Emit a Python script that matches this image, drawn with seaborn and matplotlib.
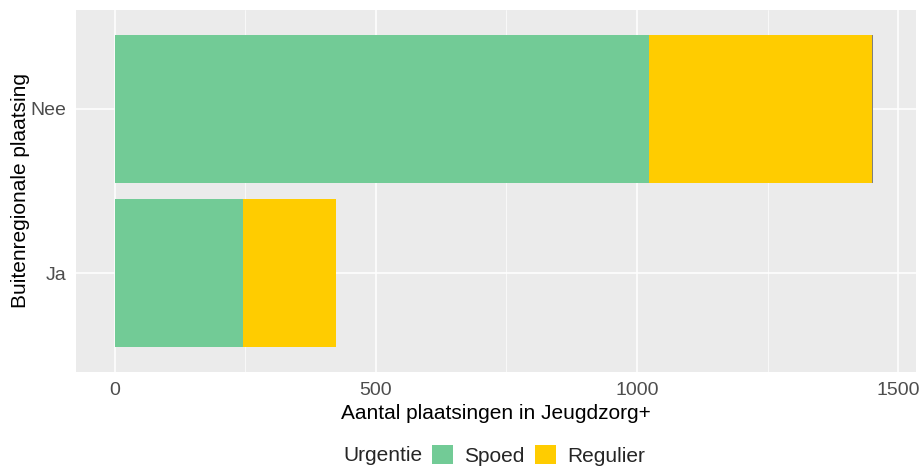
import pandas as pd
import numpy as np
import matplotlib
matplotlib.use("Agg")
import matplotlib.pyplot as plt
import seaborn as sns
from matplotlib.patches import Patch

# data
plaatsing = ['Nee', 'Ja']
spoed = [1023, 245]
regulier = [427, 178]
onbekend = [2, 0]

groen = '#72CB96'
geel = '#FFCC00'
grijs = '#7F7F7F'

df = pd.DataFrame({'Plaatsing': plaatsing, 'Spoed': spoed, 'Regulier': regulier, 'Onbekend': onbekend})
df['cum_spoed'] = df['Spoed']
df['cum_regulier'] = df['Spoed'] + df['Regulier']
df['cum_onbekend'] = df['cum_regulier'] + df['Onbekend']

sns.set_style('darkgrid', {'axes.facecolor': '#EBEBEB', 'grid.color': 'white'})
plt.rcParams['font.family'] = ['Liberation Sans', 'DejaVu Sans']

fig = plt.figure(figsize=(9.23, 4.73), dpi=100)
ax = fig.add_axes([0.0823, 0.2135, 0.9101, 0.7654])

# stacked bars: draw cumulative totals from back to front
for col, kleur in [('cum_onbekend', grijs), ('cum_regulier', geel), ('cum_spoed', groen)]:
    sns.barplot(data=df, y='Plaatsing', x=col, order=plaatsing, color=kleur,
                width=0.9, ax=ax, saturation=1, linewidth=0, edgecolor='none')

ax.set_xlim(-74, 1534)
ax.set_ylim(1.6, -0.6)
ax.set_xticks([0, 500, 1000, 1500])
ax.set_xticks([250, 750, 1250], minor=True)
ax.grid(which='major', color='white', linewidth=1.1)
ax.grid(which='minor', axis='x', color='white', linewidth=0.5)
ax.set_axisbelow(True)
for s in ax.spines.values():
    s.set_visible(False)

ax.tick_params(axis='both', which='major', length=4, width=0.8, color='#333333',
               labelcolor='#4D4D4D', labelsize=14, pad=3)
ax.tick_params(axis='both', which='minor', length=0)
ax.set_xlabel('Aantal plaatsingen in Jeugdzorg+', fontsize=15, color='black', labelpad=4)
ax.set_ylabel('Buitenregionale plaatsing', fontsize=15, color='black')
ax.yaxis.set_label_coords(-0.055, 0.5)

# legend at the bottom, title to the left
fig.text(0.372, 0.037, 'Urgentie', fontsize=15, va='center', ha='left')
handles = [Patch(facecolor=groen, edgecolor='none'), Patch(facecolor=geel, edgecolor='none')]
fig.legend(handles, ['Spoed', 'Regulier'], ncol=2, loc='center left',
           bbox_to_anchor=(0.468, 0.037), frameon=False, fontsize=15,
           handlelength=1.0, handleheight=1.0, handletextpad=0.55, columnspacing=0.5,
           borderpad=0, borderaxespad=0)

fig.savefig('out.png', dpi=100)
